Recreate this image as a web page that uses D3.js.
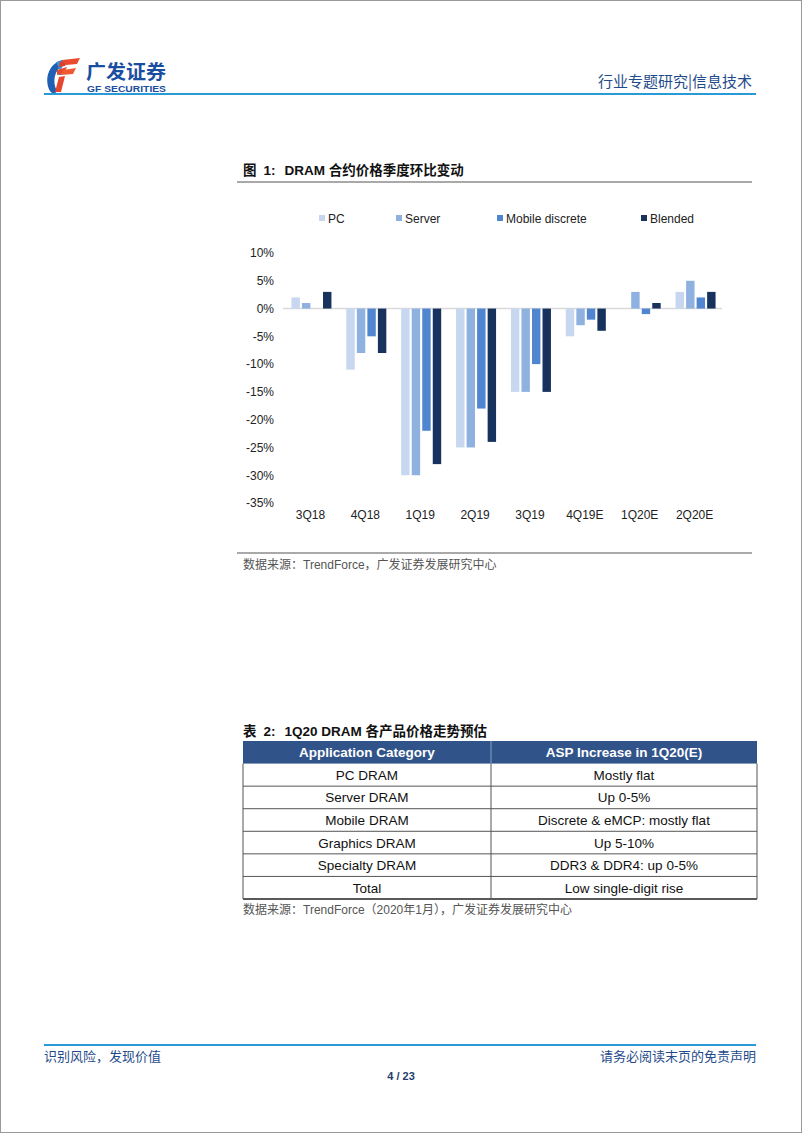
<!DOCTYPE html>
<html><head><meta charset="utf-8">
<script src="https://cdn.jsdelivr.net/npm/d3@7"></script>
<style>
html,body{margin:0;padding:0;background:#fff;}
svg{display:block;}
</style></head>
<body>
<svg id="page" width="802" height="1133"></svg>
<script>
// ---- data ----
const categories = ["3Q18","4Q18","1Q19","2Q19","3Q19","4Q19E","1Q20E","2Q20E"];
const seriesNames = ["PC","Server","Mobile discrete","Blended"];
const pcValues      = [2, -11, -30, -25, -15, -5, 0, 3];
const serverValues  = [1, -8, -30, -25, -15, -3, 3, 5];
const mobileValues  = [0, -5, -22, -18, -10, -2, -1, 2];
const blendedValues = [3, -8, -28, -24, -15, -4, 1, 3];
const yTicks = [10, 5, 0, -5, -10, -15, -20, -25, -30, -35];
const tableHeader = ["Application Category", "ASP Increase in 1Q20(E)"];
const tableCol1 = ["PC DRAM","Server DRAM","Mobile DRAM","Graphics DRAM","Specialty DRAM","Total"];
const tableCol2 = ["Mostly flat","Up 0-5%","Discrete & eMCP: mostly flat","Up 5-10%","DDR3 & DDR4: up 0-5%","Low single-digit rise"];

const colors = ["#c6d7ef","#8fb1e0","#4f86cf","#17325c"];
const allSeries = [pcValues, serverValues, mobileValues, blendedValues];

const svg = d3.select("#page");
const SANS = "Arial, 'Liberation Sans', 'Noto Sans CJK SC', sans-serif";
const CJK = "'Noto Sans CJK SC', sans-serif";

// page border
svg.append("rect").attr("x",0.5).attr("y",0.5).attr("width",801).attr("height",1132)
  .attr("fill","none").attr("stroke","#9a9a9a").attr("stroke-width",1);

// ---- header ----
const logo = svg.append("g");
logo.append("path").attr("d","M62,60 C48,64 44,80 50,91 C52,94 56,94 57,91 C52,82 54,70 64,64 Z").attr("fill","#1f5fb4");
logo.append("path").attr("d","M56,62 L66,60 L58,75 L62,75 Z").attr("fill","#3d8fd6");
logo.append("path").attr("d","M60,62 L68,60 L65,66 L59,67 Z").attr("fill","#e03c2a");
logo.append("path").attr("d","M57,70 L67,67 L64,73 L57,75 Z").attr("fill","#e8472d");
logo.append("path").attr("d","M59,77 L65,76 L61,92 L55,92 Z").attr("fill","#e8472d");
logo.append("path").attr("d","M62,60 L80,58 L77,64 L66,65 Z").attr("fill","#ea4b2e");
logo.append("path").attr("d","M63,70 L76,68 L73,74 L61,75 Z").attr("fill","#f05a30");
logo.append("text").attr("x",86).attr("y",79).attr("font-family",CJK).attr("font-weight","bold")
  .attr("font-size",19).attr("fill","#1a4ea0").attr("textLength",80).attr("lengthAdjust","spacingAndGlyphs").text("广发证券");
logo.append("text").attr("x",87).attr("y",92).attr("font-family",SANS).attr("font-weight","bold")
  .attr("font-size",8.5).attr("fill","#1a4ea0").attr("textLength",79).attr("lengthAdjust","spacingAndGlyphs").text("GF SECURITIES");

svg.append("text").attr("x",752).attr("y",87).attr("text-anchor","end").attr("font-family",CJK)
  .attr("font-size",15).attr("fill","#1f4b8a").text("行业专题研究|信息技术");
svg.append("line").attr("x1",44).attr("x2",756).attr("y1",94).attr("y2",94)
  .attr("stroke","#2a9ad6").attr("stroke-width",2);

// ---- figure title ----
const title = svg.append("text").attr("x",243).attr("y",175).attr("font-size",13.5).attr("font-weight","bold").attr("fill","#111");
title.append("tspan").attr("font-family",CJK).text("图");
title.append("tspan").attr("font-family",SANS).attr("dx",7).text("1:");
title.append("tspan").attr("font-family",SANS).attr("dx",9).text("DRAM ");
title.append("tspan").attr("font-family",CJK).text("合约价格季度环比变动");
svg.append("line").attr("x1",237).attr("x2",752).attr("y1",182).attr("y2",182)
  .attr("stroke","#8c8c8c").attr("stroke-width",1.5);

// ---- legend ----
const legendX = [319, 396, 497, 641];
seriesNames.forEach((n,i)=>{
  svg.append("rect").attr("x",legendX[i]).attr("y",215).attr("width",6).attr("height",6).attr("fill",colors[i]);
  svg.append("text").attr("x",legendX[i]+9).attr("y",223).attr("font-family",SANS).attr("font-size",12)
    .attr("fill","#222").text(n);
});

// ---- chart ----
const x0 = d3.scaleBand().domain(categories).range([283, 722]).paddingInner(0).paddingOuter(0);
const x1 = d3.scaleBand().domain(seriesNames).range([0, 40]).paddingInner(0.2).paddingOuter(0);
const y = d3.scaleLinear().domain([-35, 10]).range([503, 253]);

const yAxis = d3.axisLeft(y).tickValues(yTicks).tickFormat(d=>d+"%").tickSize(0).tickPadding(0);
const gy = svg.append("g").attr("transform","translate(274,0)").call(yAxis);
gy.select(".domain").remove();
gy.selectAll("text").attr("font-family",SANS).attr("font-size",12).attr("fill","#222");

svg.append("line").attr("x1",283).attr("x2",722).attr("y1",y(0)).attr("y2",y(0))
  .attr("stroke","#d9d9d9").attr("stroke-width",1.5);

const groups = svg.append("g").selectAll("g").data(categories).join("g")
  .attr("transform", d=>`translate(${x0(d) + (x0.bandwidth()-40)/2 + 1},0)`);
groups.selectAll("rect").data((d,ci)=>seriesNames.map((s,si)=>({s, si, v: allSeries[si][ci]})))
  .join("rect")
  .attr("x", d=>x1(d.s))
  .attr("width", x1.bandwidth())
  .attr("y", d=>y(Math.max(0,d.v)))
  .attr("height", d=>Math.abs(y(d.v)-y(0)))
  .attr("fill", d=>colors[d.si]);

const xAxis = d3.axisBottom(x0).tickSize(0).tickPadding(0);
const gx = svg.append("g").attr("transform","translate(0,508)").call(xAxis);
gx.select(".domain").remove();
gx.selectAll("text").attr("font-family",SANS).attr("font-size",12).attr("fill","#222").attr("dy","0.9em");

svg.append("line").attr("x1",237).attr("x2",752).attr("y1",553).attr("y2",553)
  .attr("stroke","#555").attr("stroke-width",1.2);

function source(yy, parts){
  const t = svg.append("text").attr("x",243).attr("y",yy).attr("font-size",12).attr("fill","#555");
  parts.forEach(p=>t.append("tspan").attr("font-family",p[1]?SANS:CJK).text(p[0]));
}
source(569, [["数据来源：",0],["TrendForce",1],["，广发证券发展研究中心",0]]);

// ---- table ----
const tt = svg.append("text").attr("x",243).attr("y",736).attr("font-size",13.5).attr("font-weight","bold").attr("fill","#111");
tt.append("tspan").attr("font-family",CJK).text("表");
tt.append("tspan").attr("font-family",SANS).attr("dx",7).text("2:");
tt.append("tspan").attr("font-family",SANS).attr("dx",9).text("1Q20 DRAM ");
tt.append("tspan").attr("font-family",CJK).text("各产品价格走势预估");

const tx0 = 243, tx1 = 491, tx2 = 757;
const rowY = d3.scaleBand().domain(d3.range(tableCol1.length+1)).range([741, 899]);
const rh = rowY.bandwidth();
svg.append("rect").attr("x",tx0).attr("y",rowY(0)).attr("width",tx2-tx0).attr("height",rh).attr("fill","#30548a");
svg.append("text").attr("x",(tx0+tx1)/2).attr("y",rowY(0)+rh/2+5).attr("text-anchor","middle")
  .attr("font-family",SANS).attr("font-weight","bold").attr("font-size",13.5).attr("fill","#fff").text(tableHeader[0]);
svg.append("text").attr("x",(tx1+tx2)/2).attr("y",rowY(0)+rh/2+5).attr("text-anchor","middle")
  .attr("font-family",SANS).attr("font-weight","bold").attr("font-size",13.5).attr("fill","#fff").text(tableHeader[1]);
svg.append("line").attr("x1",tx1).attr("x2",tx1).attr("y1",rowY(0)).attr("y2",rowY(0)+rh).attr("stroke","#8aa0c4").attr("stroke-width",1);

tableCol1.forEach((c,i)=>{
  const yy = rowY(i+1);
  svg.append("text").attr("x",(tx0+tx1)/2).attr("y",yy+rh/2+5).attr("text-anchor","middle")
    .attr("font-family",SANS).attr("font-size",13.5).attr("fill","#111").text(c);
  svg.append("text").attr("x",(tx1+tx2)/2).attr("y",yy+rh/2+5).attr("text-anchor","middle")
    .attr("font-family",SANS).attr("font-size",13.5).attr("fill","#111").text(tableCol2[i]);
  svg.append("line").attr("x1",tx0).attr("x2",tx2).attr("y1",yy+rh).attr("y2",yy+rh)
    .attr("stroke", i===tableCol1.length-1 ? "#222" : "#555").attr("stroke-width", i===tableCol1.length-1?1.5:1);
});
svg.append("line").attr("x1",tx0).attr("x2",tx0).attr("y1",rowY(1)).attr("y2",rowY(tableCol1.length)+rh).attr("stroke","#555");
svg.append("line").attr("x1",tx1).attr("x2",tx1).attr("y1",rowY(1)).attr("y2",rowY(tableCol1.length)+rh).attr("stroke","#555");
svg.append("line").attr("x1",tx2).attr("x2",tx2).attr("y1",rowY(1)).attr("y2",rowY(tableCol1.length)+rh).attr("stroke","#555");

source(914, [["数据来源：",0],["TrendForce（2020年1月），",1],["广发证券发展研究中心",0]]);

// ---- footer ----
svg.append("line").attr("x1",44).attr("x2",756).attr("y1",1045).attr("y2",1045)
  .attr("stroke","#2a9ad6").attr("stroke-width",2);
svg.append("text").attr("x",44).attr("y",1061).attr("font-family",CJK).attr("font-size",13)
  .attr("fill","#1f4b8a").text("识别风险，发现价值");
svg.append("text").attr("x",756).attr("y",1061).attr("text-anchor","end").attr("font-family",CJK).attr("font-size",13)
  .attr("fill","#1f4b8a").text("请务必阅读末页的免责声明");
svg.append("text").attr("x",401).attr("y",1080).attr("text-anchor","middle").attr("font-family",SANS).attr("font-weight","bold")
  .attr("font-size",11).attr("fill","#1f3d6e").text("4 / 23");
</script>
</body></html>
